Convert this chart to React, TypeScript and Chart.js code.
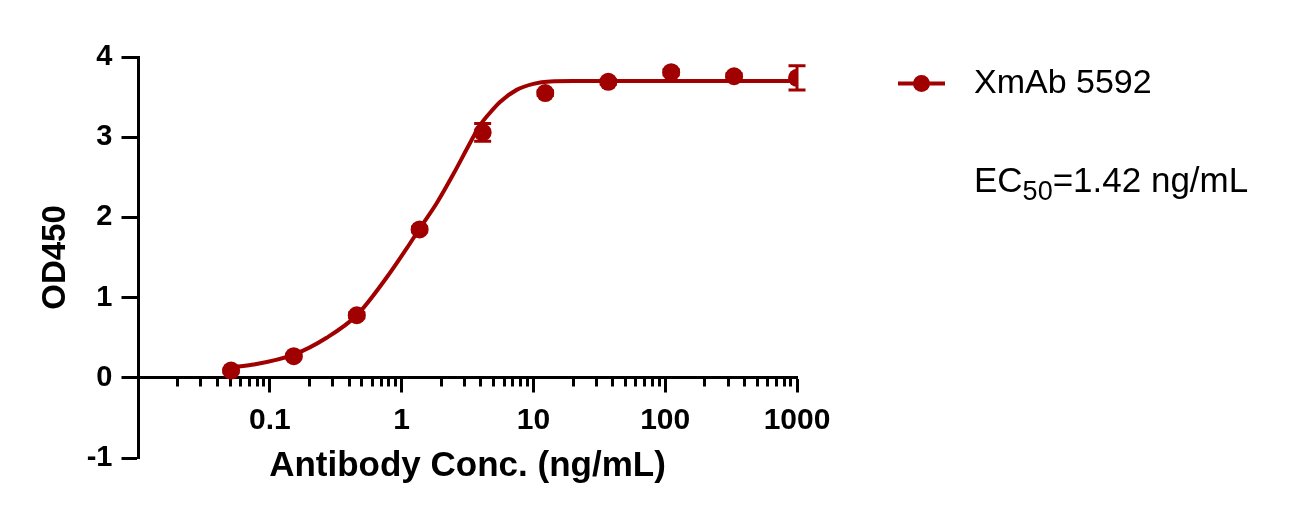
import React, { useEffect, useRef } from "react";
import { Chart, registerables } from "chart.js";

Chart.register(...registerables);

const RED = "#A00000";
const FONT = "'Liberation Sans', Arial, Helvetica, sans-serif";

// 3-fold serial dilution (ng/mL) and measured OD450 (mean, SD)
const concentrations = [0.0508, 0.152, 0.457, 1.37, 4.12, 12.3, 37.0, 111, 333, 1000];
const od450 = [0.09, 0.27, 0.78, 1.85, 3.06, 3.55, 3.69, 3.81, 3.76, 3.74];
const od450Sd = [0.02, 0.02, 0.03, 0.03, 0.11, 0.03, 0.03, 0.03, 0.03, 0.15];

// fitted curve
const fitConc = [0.0508, 0.075, 0.152, 0.27, 0.457, 0.77, 1.09, 1.37, 1.85, 2.47, 3.36, 3.94, 4.83, 5.58, 7.46, 10, 13.4, 20, 32, 100, 1000];
const fitOd = [0.13, 0.165, 0.29, 0.5, 0.78, 1.25, 1.61, 1.86, 2.18, 2.54, 2.95, 3.15, 3.33, 3.44, 3.59, 3.665, 3.695, 3.7, 3.7, 3.7, 3.7];

const seriesLabel = "XmAb 5592";
const ec50Parts = ["EC", "50", "=1.42 ng/mL"];
const xTitle = "Antibody Conc. (ng/mL)";
const yTitle = "OD450";

const xDecades = [0.01, 0.1, 1, 10, 100, 1000];
const xTickLabels = ["", "0.1", "1", "10", "100", "1000"];
const minorSteps = [2, 3, 4, 5, 6, 7, 8, 9];

// SD bars, drawn under the markers
const errorBars = {
  id: "errorBars",
  beforeDatasetsDraw(chart: any) {
    const { ctx, scales } = chart;
    const x = scales.x;
    const y = scales.y;
    ctx.save();
    ctx.strokeStyle = RED;
    ctx.lineWidth = 3;
    concentrations.forEach((c, i) => {
      const px = x.getPixelForValue(c);
      const top = y.getPixelForValue(od450[i] + od450Sd[i]);
      const bot = y.getPixelForValue(od450[i] - od450Sd[i]);
      ctx.beginPath();
      ctx.moveTo(px, top);
      ctx.lineTo(px, bot);
      ctx.moveTo(px - 8.5, top);
      ctx.lineTo(px + 8.5, top);
      ctx.moveTo(px - 8.5, bot);
      ctx.lineTo(px + 8.5, bot);
      ctx.stroke();
    });
    ctx.restore();
  },
};

// legend entry and EC50 note, right of the plot
const sideLegend = {
  id: "sideLegend",
  afterDraw(chart: any) {
    const { ctx, chartArea } = chart;
    const left = chartArea.right + 101;
    const rowY = chartArea.top + 26.5;
    const textX = left + 76;
    ctx.save();
    ctx.strokeStyle = RED;
    ctx.fillStyle = RED;
    ctx.lineWidth = 4;
    ctx.beginPath();
    ctx.moveTo(left, rowY);
    ctx.lineTo(left + 47, rowY);
    ctx.stroke();
    ctx.beginPath();
    ctx.arc(left + 23.5, rowY, 8.5, 0, Math.PI * 2);
    ctx.fill();

    ctx.fillStyle = "#000";
    ctx.textAlign = "left";
    ctx.textBaseline = "middle";
    ctx.font = `34px ${FONT}`;
    ctx.fillText(seriesLabel, textX, rowY);

    ctx.textBaseline = "alphabetic";
    const base = chartArea.top + 135;
    let x = textX;
    ctx.font = `35px ${FONT}`;
    ctx.fillText(ec50Parts[0], x, base);
    x += ctx.measureText(ec50Parts[0]).width;
    ctx.font = `27px ${FONT}`;
    ctx.fillText(ec50Parts[1], x, base + 8);
    x += ctx.measureText(ec50Parts[1]).width;
    ctx.font = `35px ${FONT}`;
    ctx.fillText(ec50Parts[2], x, base);
    ctx.restore();
  },
};

const isDecade = (v: number) => Math.abs(Math.log10(v) - Math.round(Math.log10(v))) < 1e-9;

export default function App() {
  const canvasRef = useRef<HTMLCanvasElement | null>(null);

  useEffect(() => {
    document.body.style.margin = "0";
    if (!canvasRef.current) return;

    const chart = new Chart(canvasRef.current, {
      type: "line",
      data: {
        datasets: [
          {
            label: seriesLabel,
            data: concentrations.map((c, i) => ({ x: c, y: od450[i] })),
            showLine: false,
            pointRadius: 9,
            pointBackgroundColor: RED,
            pointBorderWidth: 0,
            borderColor: RED,
            backgroundColor: RED,
          },
          {
            label: "fit",
            data: fitConc.map((c, i) => ({ x: c, y: fitOd[i] })),
            borderColor: RED,
            borderWidth: 4,
            pointRadius: 0,
            cubicInterpolationMode: "monotone",
            fill: false,
          },
        ],
      },
      options: {
        responsive: false,
        animation: false,
        events: [],
        layout: { padding: { top: 57, left: 0, right: 492, bottom: 55 } },
        scales: {
          x: {
            type: "logarithmic",
            min: 0.01,
            max: 1000,
            position: { y: 0 } as any,
            afterBuildTicks: (scale: any) => {
              scale.ticks = xDecades.map((v) => ({ value: v, major: true }));
            },
            afterFit: (scale: any) => {
              scale.height = 40;
            },
            ticks: {
              autoSkip: false,
              maxRotation: 0,
              padding: 11,
              color: "#000",
              font: { family: FONT, size: 30, weight: "bold" },
              callback: (_v: any, i: number) => xTickLabels[i],
            },
            grid: {
              drawOnChartArea: false,
              drawTicks: true,
              tickLength: 13.5,
              tickWidth: 3,
              tickColor: "#000",
            },
            border: { display: true, color: "#000", width: 3 },
            title: {
              display: true,
              text: xTitle,
              color: "#000",
              font: { family: FONT, size: 35, weight: "bold" },
              padding: { top: 0, bottom: -69.6 },
            },
          },
          xMinor: {
            type: "logarithmic",
            axis: "x",
            min: 0.01,
            max: 1000,
            position: { y: 0 } as any,
            afterBuildTicks: (scale: any) => {
              scale.ticks = xDecades
                .slice(0, -1)
                .flatMap((d) => minorSteps.map((m) => ({ value: d * m })))
                .filter((t) => !isDecade(t.value));
            },
            afterFit: (scale: any) => {
              scale.height = 0;
            },
            ticks: { display: false },
            grid: {
              drawOnChartArea: false,
              drawTicks: true,
              tickLength: 8.5,
              tickWidth: 3,
              tickColor: "#000",
            },
            border: { display: false },
          },
          y: {
            type: "linear",
            min: -1,
            max: 4,
            position: "left",
            afterFit: (scale: any) => {
              scale.width = 138;
            },
            ticks: {
              stepSize: 1,
              padding: 9,
              color: "#000",
              font: { family: FONT, size: 29, weight: "bold" },
            },
            grid: {
              drawOnChartArea: false,
              drawTicks: true,
              tickLength: 16.5,
              tickWidth: 3,
              tickColor: "#000",
            },
            border: { display: true, color: "#000", width: 3 },
            title: {
              display: true,
              text: yTitle,
              color: "#000",
              font: { family: FONT, size: 33, weight: "bold" },
              padding: { top: 36, bottom: 0 },
            },
          },
        },
        plugins: {
          tooltip: { enabled: false },
          legend: { display: false },
        },
      },
      plugins: [errorBars, sideLegend],
    });

    return () => chart.destroy();
  }, []);

  return (
    <div style={{ width: 1289, height: 513 }}>
      <canvas ref={canvasRef} width={1289} height={513} />
    </div>
  );
}
